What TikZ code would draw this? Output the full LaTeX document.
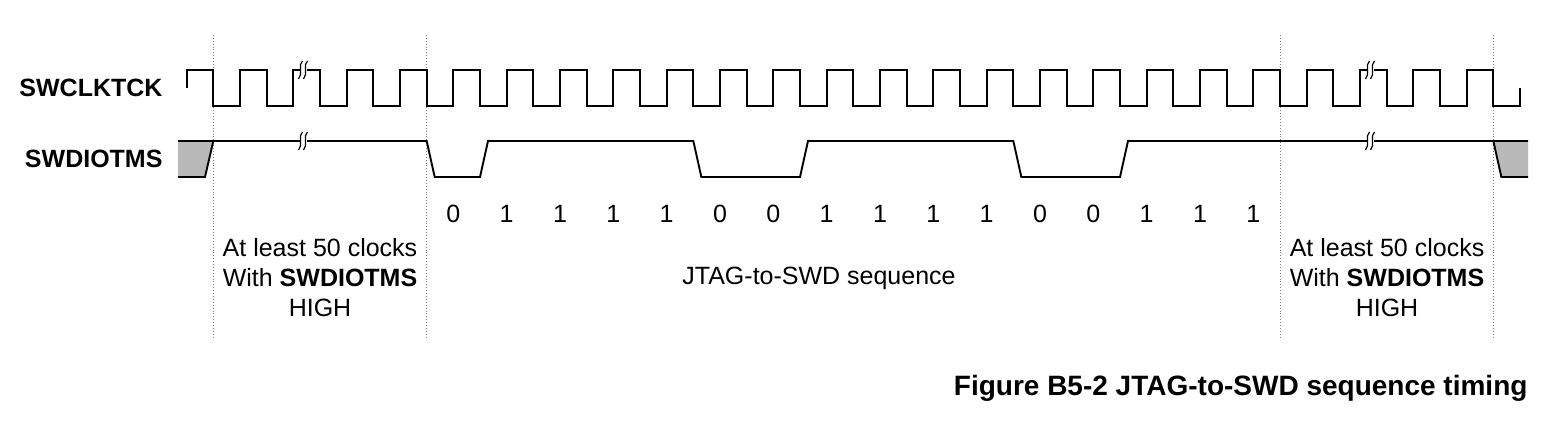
\documentclass[tikz,border=0pt]{standalone}
\usepackage{fontspec}
\setmainfont{Liberation Sans}
\begin{document}
\begin{tikzpicture}[x=1pt,y=-1pt,
  sig/.style={line width=1.9pt,line join=miter},
  lbl/.style={font=\fontsize{25}{30}\selectfont\bfseries,anchor=east},
  txt/.style={font=\fontsize{25}{30}\selectfont,align=center},
  guide/.style={gray,dotted,line width=0.9pt},
  brk/.style={line width=1.2pt}]
\useasboundingbox (0,0) rectangle (1552,422);
% guides
\foreach \x in {213.33,426.67,1280,1493.33} \draw[guide] (\x,35) -- (\x,338);
% labels
\node[lbl] (clk) at (166,88) {SWCLKTCK};
\node[lbl] (dio) at (166,159) {SWDIOTMS};
% clock
\draw[sig] (186.67,88) -- (186.67,70)
  \foreach \i in {0,...,23} { -- ({213.333+\i*53.333},70) -- ++(0,36) -- ++(26.667,0) -- ++(0,-36) }
  -- (1493.33,70) -- (1493.33,106) -- (1520,106) -- (1520,88);
% data fills
\fill[gray!55] (178,141) -- (213.33,141) -- (205,177) -- (178,177) -- cycle;
\fill[gray!55] (1493.33,141) -- (1528,141) -- (1528,177) -- (1501.33,177) -- cycle;
\draw[sig] (178,177) -- (205,177) -- (213.33,141);
\draw[sig] (1493.33,141) -- (1501.33,177) -- (1528,177);
\draw[sig] (178,141) -- (426.67,141) -- (434.67,177) -- (480,177) -- (488,141)
  -- (693.33,141) -- (701.33,177) -- (800,177) -- (808,141)
  -- (1013.33,141) -- (1021.33,177) -- (1120,177) -- (1128,141) -- (1528,141);
% breaks
\foreach \x/\y in {303/70,303/141,1370/70,1370/141}{
  \fill[white] (\x-3,\y-3) rectangle (\x+4,\y+3);
  \foreach \d in {-2.5,2.5}
    \draw[brk] (\x+\d+2,\y-9) .. controls (\x+\d-3,\y-5) and (\x+\d+3,\y+4) .. (\x+\d-2,\y+9);
}
% bits
\foreach \b [count=\k from 0] in {0,1,1,1,1,0,0,1,1,1,1,0,0,1,1,1}
  \node[font=\fontsize{25}{30}\selectfont] (b\k) at ({453.33+\k*53.333},214) {\b};
% texts
\node[txt] (tl) at (320,278) {At least 50 clocks\\With \textbf{SWDIOTMS}\\HIGH};
\node[txt] (tm) at (819,278) {JTAG-to-SWD sequence};
\node[txt] (tr) at (1387,278) {At least 50 clocks\\With \textbf{SWDIOTMS}\\HIGH};
\node[font=\fontsize{28}{32}\selectfont\bfseries,anchor=east] (cap) at (1531,388) {Figure B5-2 JTAG-to-SWD sequence timing};
\end{tikzpicture}
\end{document}
